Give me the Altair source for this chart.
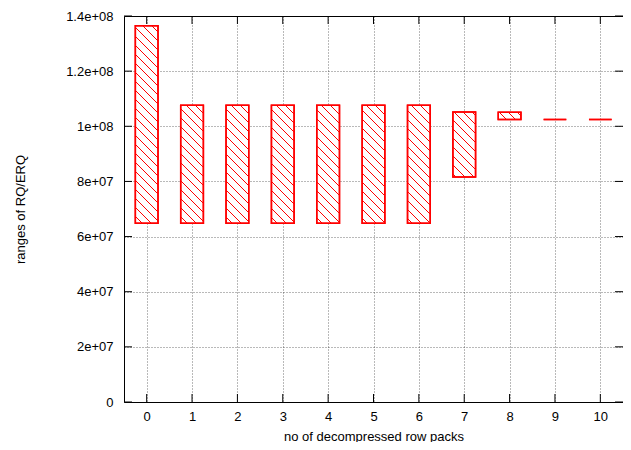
import math
import altair as alt
import pandas as pd

# ---- data ----
packs = [0, 1, 2, 3, 4, 5, 6, 7, 8, 9, 10]
range_low = [6.48e7, 6.48e7, 6.48e7, 6.48e7, 6.48e7, 6.48e7, 6.48e7, 8.165e7, 1.0245e8, 1.0245e8, 1.0245e8]
range_high = [1.3645e8, 1.0764e8, 1.0764e8, 1.0764e8, 1.0764e8, 1.0764e8, 1.0764e8, 1.052e8, 1.0505e8, 1.0245e8, 1.0245e8]
x_ticks = [0, 1, 2, 3, 4, 5, 6, 7, 8, 9, 10]
y_ticks = [0, 2e7, 4e7, 6e7, 8e7, 1e8, 1.2e8, 1.4e8]
y_tick_labels = ["0", "2e+07", "4e+07", "6e+07", "8e+07", "1e+08", "1.2e+08", "1.4e+08"]

# ---- layout ----
W, H = 499, 386
PAD_L, PAD_T, PAD_B = 116, 8, 40
XMIN, XMAX = -0.5, 10.5
YMIN, YMAX = 0.0, 1.4e8
BAR_HALF = 0.25
HATCH_GAP = 9.0  # px between hatch lines (vertical)
TICK = 8
RED = "#ff0000"
FONT = "Liberation Sans"
FS = 13

bars = pd.DataFrame({
    "pack": packs,
    "x0": [p - BAR_HALF for p in packs],
    "x1": [p + BAR_HALF for p in packs],
    "low": range_low,
    "high": range_high,
})

# hatch segments ("\\\" pattern, 45 deg in screen space), derived from the bars
sx = W / (XMAX - XMIN)
sy = H / (YMAX - YMIN)
def to_px(x):
    return (x - XMIN) * sx
def to_py(y):
    return H - (y - YMIN) * sy
def from_px(px):
    return px / sx + XMIN
def from_py(py):
    return (H - py) / sy + YMIN

segs = []
for _, b in bars.iterrows():
    L, R = to_px(b.x0), to_px(b.x1)
    T, B = to_py(b.high), to_py(b.low)
    if B - T < 1.0:
        continue
    k0 = math.floor((T - R) / HATCH_GAP)
    k1 = math.ceil((B - L) / HATCH_GAP)
    for k in range(k0, k1 + 1):
        c = k * HATCH_GAP
        ps = max(L, T - c)
        pe = min(R, B - c)
        if pe - ps > 0.7:
            segs.append({
                "x0": from_px(ps), "low": from_py(ps + c),
                "x1": from_px(pe), "high": from_py(pe + c),
            })
hatch = pd.DataFrame(segs)
xt = pd.DataFrame({"x0": x_ticks})
yt = pd.DataFrame({"low": y_ticks})

xscale = alt.Scale(domain=[XMIN, XMAX], nice=False, zero=False)
yscale = alt.Scale(domain=[YMIN, YMAX], nice=False, zero=False)

label_list = "[" + ",".join("'%s'" % s for s in y_tick_labels) + "]"
y_label_expr = label_list + "[round(datum.value / 2e7)]"

grid_kw = dict(grid=True, gridColor="#000000", gridOpacity=0.55, gridDash=[1, 2], gridWidth=1)

x_axis = alt.Axis(
    values=x_ticks, title="no of decompressed row packs", ticks=False, domain=False,
    labelPadding=8, labelFlush=False, format="d", titleX=W / 2, titleY=34,
    titleBaseline="middle", **grid_kw)
y_axis = alt.Axis(
    values=y_ticks, labelExpr=y_label_expr, title="ranges of RQ/ERQ", ticks=False,
    domain=False, labelPadding=11, labelFlush=False, titleX=-104, titleY=H / 2,
    titleBaseline="middle", titleAngle=-90, **grid_kw)

def X(field="x0"):
    return alt.X(field + ":Q", scale=xscale, axis=x_axis)
def Y(field="low"):
    return alt.Y(field + ":Q", scale=yscale, axis=y_axis)

body = alt.Chart(bars).mark_rect(fill="white", stroke=RED, strokeWidth=1.5).encode(
    x=X(), x2="x1:Q", y=Y(), y2="high:Q")

hatch_layer = alt.Chart(hatch).mark_rule(color=RED, strokeWidth=1).encode(
    x=X(), x2="x1:Q", y=Y(), y2="high:Q")

outline = alt.Chart(bars).mark_rect(fillOpacity=0, stroke=RED, strokeWidth=1.5).encode(
    x=X(), x2="x1:Q", y=Y(), y2="high:Q")

tick_bottom = alt.Chart(xt).mark_rule(color="black", strokeWidth=1).encode(
    x=X(), y=alt.value(H), y2=alt.value(H - TICK))
tick_top = alt.Chart(xt).mark_rule(color="black", strokeWidth=1).encode(
    x=X(), y=alt.value(0), y2=alt.value(TICK))
tick_left = alt.Chart(yt).mark_rule(color="black", strokeWidth=1).encode(
    y=Y(), x=alt.value(0), x2=alt.value(TICK))
tick_right = alt.Chart(yt).mark_rule(color="black", strokeWidth=1).encode(
    y=Y(), x=alt.value(W), x2=alt.value(W - TICK))

chart = alt.layer(
    body, hatch_layer, outline, tick_bottom, tick_top, tick_left, tick_right,
).properties(
    width=W, height=H,
    autosize=alt.AutoSizeParams(type="none"),
    padding={"left": PAD_L, "top": PAD_T, "right": 0, "bottom": PAD_B},
).configure_view(stroke="#000000", strokeWidth=1).configure_axis(
    labelFont=FONT, labelFontSize=FS, labelColor="#000000",
    titleFont=FONT, titleFontSize=FS, titleFontWeight="normal", titleColor="#000000",
)

chart.save("out.html", embed_options={"renderer": "svg", "actions": False})
